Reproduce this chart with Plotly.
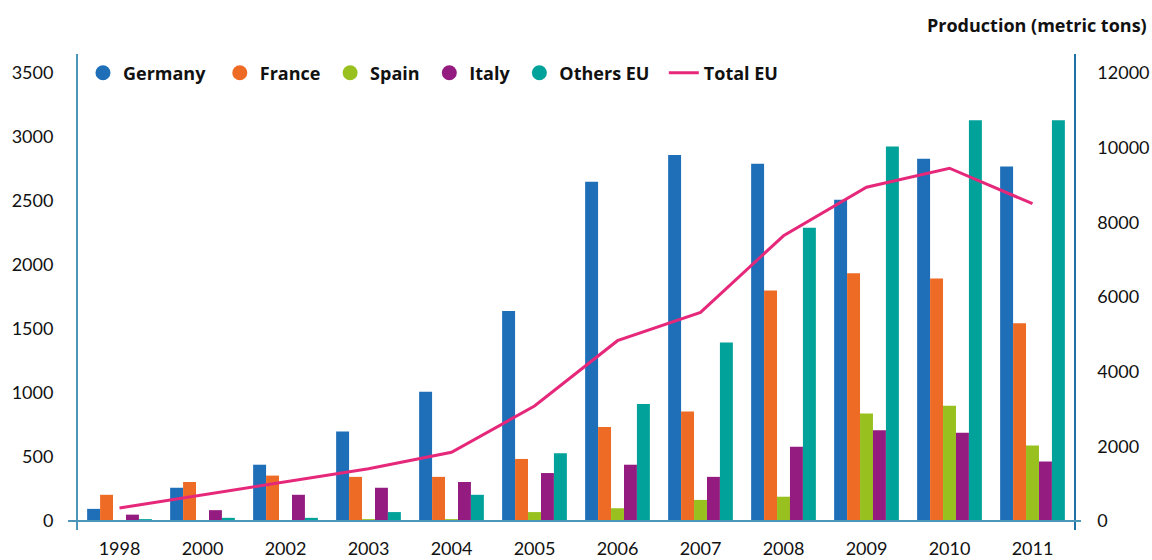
import plotly.graph_objects as go

years = ["1998", "2000", "2002", "2003", "2004", "2005", "2006", "2007", "2008", "2009", "2010", "2011"]

germany = [95, 260, 440, 700, 1010, 1640, 2650, 2860, 2790, 2510, 2830, 2770]
france = [205, 305, 355, 345, 345, 485, 735, 855, 1800, 1935, 1895, 1545]
spain = [0, 0, 0, 15, 15, 70, 100, 165, 190, 840, 900, 590]
italy = [50, 85, 205, 260, 305, 375, 440, 345, 580, 710, 690, 465]
others_eu = [15, 25, 25, 70, 205, 530, 915, 1395, 2290, 2925, 3130, 3130]
total_eu = [350, 700, 1060, 1400, 1840, 3080, 4830, 5590, 7640, 8940, 9450, 8500]

left_ticks = [0, 500, 1000, 1500, 2000, 2500, 3000, 3500]
right_ticks = [0, 2000, 4000, 6000, 8000, 10000, 12000]

# (legend name, values, colour, trailing spacing after the legend label)
bar_series = [
    ("Germany", germany, "#1f6fb8", 2),
    ("France", france, "#ee6b26", 1),
    ("Spain", spain, "#98c11f", 1),
    ("Italy", italy, "#941c80", 1),
    ("Others EU", others_eu, "#00a29a", 2),
]
line_color = "#e6287a"

TICK_FONT = dict(family="Lato, Open Sans, sans-serif", size=18, color="#111111")
LEGEND_FONT = dict(family="Open Sans, sans-serif", size=18, color="#111111", weight="bold")

fig = go.Figure()

for name, values, color, _ in bar_series:
    fig.add_trace(go.Bar(
        x=years, y=values, name=name, marker=dict(color=color, line=dict(width=0)),
        showlegend=False, yaxis="y",
    ))

# legend entries drawn as round markers
for name, values, color, pad in bar_series:
    fig.add_trace(go.Scatter(
        x=[None], y=[None], mode="markers", name=name + "\u00a0" * pad,
        marker=dict(color=color, size=15, symbol="circle"), yaxis="y",
    ))

fig.add_trace(go.Scatter(
    x=years, y=total_eu, name="Total EU", mode="lines",
    line=dict(color=line_color, width=3), yaxis="y2",
))

fig.update_layout(
    width=1152, height=560,
    margin=dict(l=78, r=78, t=54, b=30),
    paper_bgcolor="white", plot_bgcolor="white",
    barmode="group", bargap=0.22, bargroupgap=0,
    xaxis=dict(
        type="category", range=[-0.5, 11.5], showgrid=False, showline=False,
        ticks="", tickfont=TICK_FONT, ticklabelstandoff=6, automargin=False,
    ),
    yaxis=dict(
        range=[-70, 3648], tickvals=left_ticks, showgrid=False, zeroline=False,
        showline=True, linecolor="#4a95b8", linewidth=2, ticks="",
        tickfont=TICK_FONT, ticklabelstandoff=19, automargin=False,
    ),
    yaxis2=dict(
        range=[-241, 12510], tickvals=right_ticks, tickformat="d",
        overlaying="y", side="right",
        showgrid=False, zeroline=False, showline=True, linecolor="#2070a8",
        linewidth=1.5, ticks="", tickfont=TICK_FONT, ticklabelstandoff=18,
        automargin=False,
    ),
    legend=dict(
        orientation="h", x=0.005, y=0.96, xanchor="left", yanchor="middle",
        font=LEGEND_FONT, bgcolor="rgba(0,0,0,0)", itemwidth=30,
        traceorder="normal",
    ),
    font=dict(family="Open Sans, sans-serif"),
    annotations=[dict(
        text="<b>Production (metric tons)</b>", xref="paper", yref="paper",
        x=1.0753, y=1.061, xanchor="right", yanchor="middle", showarrow=False,
        font=dict(family="Open Sans, sans-serif", size=18, color="#111111"),
    )],
    shapes=[dict(
        type="line", xref="paper", yref="y", x0=-0.01, x1=1.007, y0=0, y1=0,
        line=dict(color="#4a95b8", width=2), layer="above",
    )],
)

fig.write_html("out.html")
